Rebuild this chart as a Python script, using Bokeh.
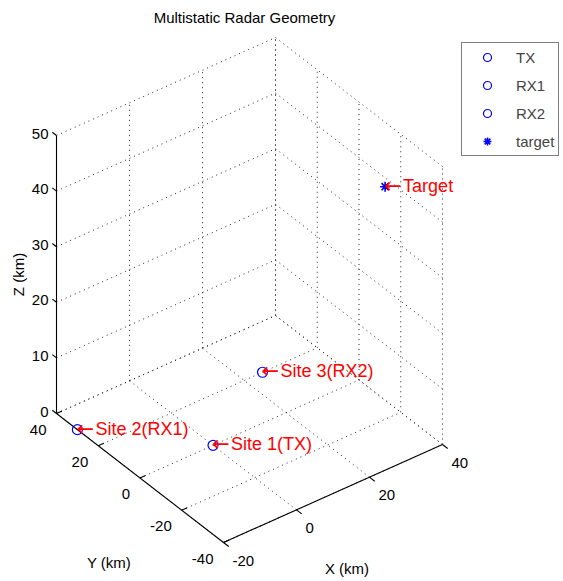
import numpy as np
from bokeh.plotting import figure
from bokeh.models import Range1d, Legend, LegendItem, Label
from bokeh.core.properties import value
from bokeh.embed import file_html
from bokeh.resources import INLINE

# ---------------- data ----------------
TITLE = "Multistatic Radar Geometry"
X_LABEL = "X (km)"
Y_LABEL = "Y (km)"
Z_LABEL = "Z (km)"
X_LIM = [-20, 40]
Y_LIM = [-40, 40]
Z_LIM = [0, 50]
X_TICKS = [-20, 0, 20, 40]
Y_TICKS = [-40, -20, 0, 20, 40]
Z_TICKS = [0, 10, 20, 30, 40, 50]

TX = [0, 0, 0]
RX1 = [-20, 30, 0]
RX2 = [25, 20, 0]
TARGET = [38, -16, 40]
ARROW = "\u2190"
SITE_TEXT = ["Site 1(TX)", "Site 2(RX1)", "Site 3(RX2)", "Target"]
LEGEND_TEXT = ["TX", "RX1", "RX2", "target"]

# ---------------- layout / view ----------------
W, H = 563, 581
# orthographic view (az=-37.5, el=30) expressed as page-pixel basis vectors
ORIGIN = (223.0, 542.0)      # page position of (xmin, ymin, zmin)
EX = (3.65, -1.633)          # px per km along X
EY = (-2.0875, -1.6125)      # px per km along Y
EZ = (0.0, -5.56)            # px per km along Z

FONT = "Liberation Sans"


def proj(x, y, z):
    x = np.asarray(x, float) - X_LIM[0]
    y = np.asarray(y, float) - Y_LIM[0]
    z = np.asarray(z, float) - Z_LIM[0]
    sx = ORIGIN[0] + x * EX[0] + y * EY[0] + z * EZ[0]
    sy = ORIGIN[1] + x * EX[1] + y * EY[1] + z * EZ[1]
    return sx, sy


p = figure(width=W, height=H, x_range=Range1d(0, W), y_range=Range1d(H, 0),
           output_backend="svg", toolbar_location=None, x_axis_type=None, y_axis_type=None,
           min_border=0, outline_line_color=None)
p.grid.visible = False
p.background_fill_color = "white"

x0, x1 = X_LIM
y0, y1 = Y_LIM
z0, z1 = Z_LIM

# ---------------- grid (dotted) ----------------
segs = []
for xv in X_TICKS:
    segs.append(((xv, y0, z0), (xv, y1, z0)))
    segs.append(((xv, y1, z0), (xv, y1, z1)))
for yv in Y_TICKS:
    segs.append(((x0, yv, z0), (x1, yv, z0)))
    segs.append(((x1, yv, z0), (x1, yv, z1)))
for zv in Z_TICKS:
    segs.append(((x0, y1, zv), (x1, y1, zv)))
    segs.append(((x1, y0, zv), (x1, y1, zv)))
gx, gy = [], []
for a, b in segs:
    sx, sy = proj([a[0], b[0]], [a[1], b[1]], [a[2], b[2]])
    gx.append(list(sx)); gy.append(list(sy))
p.multi_line(gx, gy, line_color="#262626", line_width=1, line_dash="1 4")

# ---------------- axes ----------------
axes = [((x0, y0, z0), (x1, y0, z0)),
        ((x0, y0, z0), (x0, y1, z0)),
        ((x0, y1, z0), (x0, y1, z1))]
TL_X = 2.5   # km along -Y
TL_Y = 1.5   # km along +X
TL_Z = 2.0   # km along +Y
for xv in X_TICKS:
    axes.append(((xv, y0, z0), (xv, y0 - TL_X, z0)))
for yv in Y_TICKS:
    axes.append(((x0, yv, z0), (x0 + TL_Y, yv, z0)))
for zv in Z_TICKS:
    axes.append(((x0, y1, zv), (x0, y1 + TL_Z, zv)))
ax_x, ax_y = [], []
for a, b in axes:
    sx, sy = proj([a[0], b[0]], [a[1], b[1]], [a[2], b[2]])
    ax_x.append(list(sx)); ax_y.append(list(sy))
p.multi_line(ax_x, ax_y, line_color="black", line_width=1.1)

# ---------------- tick labels ----------------
TICK_FS = "15px"
sx, sy = proj(X_TICKS, [y0] * len(X_TICKS), [z0] * len(X_TICKS))
p.text(sx + 9, sy + 18, text=[str(v) for v in X_TICKS], text_align="left", text_baseline="middle",
       text_font=value(FONT), text_font_size=TICK_FS, text_color="black")
sx, sy = proj([x0] * len(Y_TICKS), Y_TICKS, [z0] * len(Y_TICKS))
p.text(sx - 10, sy + 16, text=[str(v) for v in Y_TICKS], text_align="right", text_baseline="middle",
       text_font=value(FONT), text_font_size=TICK_FS, text_color="black")
sx, sy = proj([x0] * len(Z_TICKS), [y1] * len(Z_TICKS), Z_TICKS)
p.text(sx - 8, sy - 2, text=[str(v) for v in Z_TICKS], text_align="right", text_baseline="middle",
       text_font=value(FONT), text_font_size=TICK_FS, text_color="black")

# ---------------- axis labels ----------------
LAB_FS = "15px"
sx, sy = proj([(x0 + x1) / 2], [y0], [z0])
p.text(sx + 14, sy + 75, text=[X_LABEL], text_align="center", text_baseline="middle",
       text_font=value(FONT), text_font_size=LAB_FS, text_color="black")
sx, sy = proj([x0], [(y0 + y1) / 2], [z0])
p.text(sx - 31, sy + 84, text=[Y_LABEL], text_align="center", text_baseline="middle",
       text_font=value(FONT), text_font_size=LAB_FS, text_color="black")
sx, sy = proj([x0], [y1], [(z0 + z1) / 2])
p.text(sx - 38, sy, text=[Z_LABEL], text_align="center", text_baseline="middle", angle=np.pi / 2,
       text_font=value(FONT), text_font_size=LAB_FS, text_color="black")

# ---------------- title ----------------
lx, _ = proj([x0], [y1], [z0])
rx, _ = proj([x1], [y0], [z0])
_, ty = proj([x1], [y1], [z1])
p.add_layout(Label(x=(lx[0] + rx[0]) / 2 - 5, y=ty[0] - 20, text=TITLE, text_align="center",
                   text_baseline="middle", text_font=FONT, text_font_size="15px",
                   text_color="black"))

# ---------------- points ----------------
renderers = []
for pt in (TX, RX1, RX2):
    sx, sy = proj([pt[0]], [pt[1]], [pt[2]])
    r = p.scatter(sx, sy, marker="circle", size=10, fill_color=None, line_color="#0000FF", line_width=1.2)
    renderers.append(r)
sx, sy = proj([TARGET[0]], [TARGET[1]], [TARGET[2]])
r = p.scatter(sx, sy, marker="asterisk", size=10, line_color="#0000FF", line_width=1.6)
renderers.append(r)

pts = [TX, RX1, RX2, TARGET]
sx, sy = proj([q[0] for q in pts], [q[1] for q in pts], [q[2] for q in pts])
p.text(sx - 1, sy - 1, text=[ARROW] * len(pts), text_align="left", text_baseline="middle",
       text_font=value("DejaVu Sans"), text_font_size="21px", text_color="#FF0000")
p.text(sx + 18, sy - 1, text=SITE_TEXT, text_align="left", text_baseline="middle",
       text_font=value(FONT), text_font_size="18px", text_color="#FF0000")

# ---------------- legend ----------------
legend = Legend(items=[LegendItem(label=t, renderers=[r]) for t, r in zip(LEGEND_TEXT, renderers)],
                location=(461, 581 - 156), orientation="vertical",
                border_line_color="black", border_line_width=1, background_fill_color="white",
                background_fill_alpha=1.0, label_text_font=FONT, label_text_font_size="15px",
                padding=4, spacing=8, glyph_width=42, glyph_height=20, label_standoff=8,
                label_height=20, margin=0)
p.add_layout(legend, "center")

open("out.html", "w").write(file_html(p, INLINE))
